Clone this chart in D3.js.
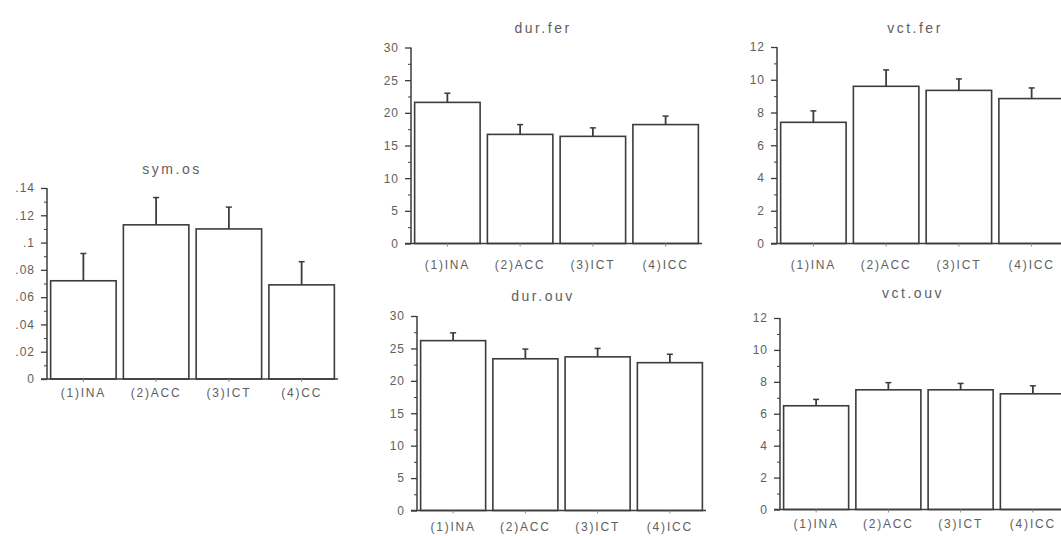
<!DOCTYPE html>
<html><head><meta charset="utf-8">
<script src="https://cdn.jsdelivr.net/npm/d3@7"></script>
<style>
body{margin:0;background:#fff;}
svg{display:block;}
text{font-family:"Liberation Sans",Arial,sans-serif;fill:#606060;}
</style></head><body>
<svg id="c" width="1061" height="536"></svg>
<script>
// ---- data ----
const catsA = ["(1)INA","(2)ACC","(3)ICT","(4)CC"];
const catsB = ["(1)INA","(2)ACC","(3)ICT","(4)ICC"];

const symOsMean = [0.072, 0.113, 0.110, 0.069];
const symOsErr  = [0.020, 0.020, 0.016, 0.017];
const symOsTicks = [0, 0.02, 0.04, 0.06, 0.08, 0.10, 0.12, 0.14];
const symOsTickLabels = ["0", ".02", ".04", ".06", ".08", ".1", ".12", ".14"];

const durFerMean = [21.6, 16.7, 16.4, 18.2];
const durFerErr  = [1.4, 1.5, 1.3, 1.3];
const vctFerMean = [7.4, 9.6, 9.35, 8.85];
const vctFerErr  = [0.7, 1.0, 0.7, 0.65];
const durOuvMean = [26.2, 23.4, 23.7, 22.8];
const durOuvErr  = [1.2, 1.5, 1.3, 1.3];
const vctOuvMean = [6.5, 7.5, 7.5, 7.25];
const vctOuvErr  = [0.4, 0.45, 0.4, 0.5];

const durTicks = [0, 5, 10, 15, 20, 25, 30];
const vctTicks = [0, 2, 4, 6, 8, 10, 12];

// ---- panels (layout) ----
const panels = [
  {title:"sym.os", cats:catsA, mean:symOsMean, err:symOsErr, ticks:symOsTicks, labels:symOsTickLabels, max:0.14,
   x0:47, w:291, top:188, bottom:379, tx:172, ty:174, ly:397},
  {title:"dur.fer", cats:catsB, mean:durFerMean, err:durFerErr, ticks:durTicks, labels:durTicks.map(String), max:30,
   x0:411, w:291, top:47.5, bottom:243.5, tx:543, ty:33, ly:269},
  {title:"vct.fer", cats:catsB, mean:vctFerMean, err:vctFerErr, ticks:vctTicks, labels:vctTicks.map(String), max:12,
   x0:777, w:291, top:47, bottom:243.5, tx:915, ty:33, ly:269},
  {title:"dur.ouv", cats:catsB, mean:durOuvMean, err:durOuvErr, ticks:durTicks, labels:durTicks.map(String), max:30,
   x0:417, w:289, top:316, bottom:510.5, tx:543, ty:301, ly:531},
  {title:"vct.ouv", cats:catsB, mean:vctOuvMean, err:vctOuvErr, ticks:vctTicks, labels:vctTicks.map(String), max:12,
   x0:780, w:289, top:318, bottom:509.5, tx:913, ty:298, ly:528}
];

const svg = d3.select("#c");
const ink = "#3c3c3c";

panels.forEach(p => {
  const g = svg.append("g");
  const x = d3.scaleBand().domain(p.cats).range([p.x0, p.x0 + p.w]).paddingInner(0.1).paddingOuter(0.05);
  const y = d3.scaleLinear().domain([0, p.max]).range([p.bottom, p.top]);
  const data = p.cats.map((c, i) => ({c, m:p.mean[i], e:p.err[i]}));

  // bars
  g.selectAll("rect").data(data).join("rect")
    .attr("x", d => x(d.c)).attr("y", d => y(d.m))
    .attr("width", x.bandwidth()).attr("height", d => y(0) - y(d.m))
    .attr("fill", "#fff").attr("stroke", ink).attr("stroke-width", 1.6);

  // error bars (upper only)
  g.selectAll("line.err").data(data).join("line").attr("class","err")
    .attr("x1", d => x(d.c) + x.bandwidth()/2).attr("x2", d => x(d.c) + x.bandwidth()/2)
    .attr("y1", d => y(d.m)).attr("y2", d => y(d.m + d.e))
    .attr("stroke", ink).attr("stroke-width", 1.8);
  g.selectAll("line.cap").data(data).join("line").attr("class","cap")
    .attr("x1", d => x(d.c) + x.bandwidth()/2 - 3).attr("x2", d => x(d.c) + x.bandwidth()/2 + 3)
    .attr("y1", d => y(d.m + d.e)).attr("y2", d => y(d.m + d.e))
    .attr("stroke", ink).attr("stroke-width", 1.5);

  // y axis
  const yAxis = d3.axisLeft(y).tickValues(p.ticks).tickSize(6).tickPadding(6)
    .tickFormat((d, i) => p.labels[i]);
  const ya = g.append("g").attr("transform", `translate(${p.x0},0)`).call(yAxis);
  ya.select(".domain").attr("stroke", ink).attr("stroke-width", 1.5).attr("d", `M0,${p.bottom}V${p.top}`);
  ya.selectAll(".tick line").attr("stroke", ink).attr("stroke-width", 1.3);
  ya.selectAll("text").attr("font-size", 12).style("letter-spacing","1px").attr("fill","#606060");

  // minor ticks
  const step = p.ticks[1] - p.ticks[0];
  const minor = p.ticks.slice(0, -1).map(t => t + step/2);
  const ma = g.append("g").attr("transform", `translate(${p.x0},0)`)
    .call(d3.axisLeft(y).tickValues(minor).tickSize(3).tickFormat(""));
  ma.select(".domain").remove();
  ma.selectAll(".tick line").attr("stroke", ink).attr("stroke-width", 1);

  // x axis
  const xAxis = d3.axisBottom(x).tickSize(3).tickPadding(7);
  const xa = g.append("g").attr("transform", `translate(0,${p.bottom})`).call(xAxis);
  xa.select(".domain").attr("stroke", ink).attr("stroke-width", 1.5).attr("d", `M${p.x0-6},0H${p.x0+p.w}`);
  xa.selectAll(".tick line").attr("stroke", "#888").attr("stroke-width", 1);
  xa.selectAll("text").attr("font-size", 12).style("letter-spacing","1.8px").attr("fill","#606060")
    .attr("dy", null).attr("y", p.ly - p.bottom);

  // title
  g.append("text").attr("x", p.tx).attr("y", p.ty).attr("text-anchor","middle")
    .attr("font-size", 14).style("letter-spacing","2.5px").text(p.title);
});
</script></body></html>
